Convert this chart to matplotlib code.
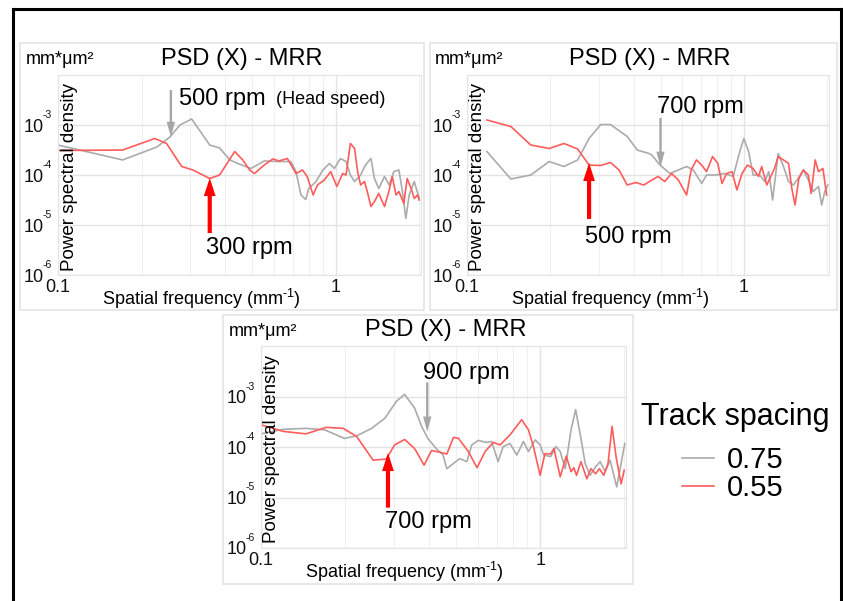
import matplotlib
matplotlib.use("Agg")
import matplotlib.pyplot as plt
from matplotlib.lines import Line2D
from matplotlib.patches import Rectangle
from matplotlib.ticker import LogLocator, NullFormatter, NullLocator

plt.rcParams['font.family'] = 'Liberation Sans'
plt.rcParams['mathtext.fontset'] = 'custom'
plt.rcParams['mathtext.rm'] = 'Liberation Sans'
plt.rcParams['mathtext.it'] = 'Liberation Sans:italic'
plt.rcParams['mathtext.bf'] = 'Liberation Sans:bold'
plt.rcParams['axes.unicode_minus'] = False

W, H = 843, 601
GRAY = '#ababab'
RED = '#ff5c5c'
GRID = '#e4e4e4'

SPACING = ['0.75', '0.55']
YTICKS = [1e-6, 1e-5, 1e-4, 1e-3]
YEXP = ['-6', '-5', '-4', '-3']

# panel 1 : 300 / 500 rpm
f1_075 = [0.10, 0.171, 0.227, 0.253, 0.275, 0.303, 0.352, 0.382, 0.416, 0.444,
          0.496, 0.553, 0.618, 0.69, 0.72, 0.75, 0.78, 0.80, 0.85, 0.90,
          0.95, 0.99, 1.04, 1.09, 1.13, 1.17, 1.23, 1.28, 1.34, 1.38,
          1.43, 1.50, 1.56, 1.62, 1.69, 1.74, 1.79, 1.84, 1.92, 2.00]
p1_075 = [3.98e-4, 2.00e-4, 3.63e-4, 5.75e-4, 1.00e-3, 1.32e-3, 3.98e-4, 3.47e-4, 2.00e-4, 1.70e-4,
          1.35e-4, 1.91e-4, 1.86e-4, 1.86e-4, 1.17e-4, 3.98e-5, 3.24e-5, 5.37e-5, 7.41e-5, 1.26e-4,
          1.70e-4, 1.35e-4, 2.14e-4, 1.86e-4, 1.00e-4, 7.41e-5, 1.00e-4, 1.58e-4, 2.14e-4, 8.51e-5,
          5.37e-5, 9.33e-5, 6.31e-5, 1.17e-4, 1.26e-4, 4.68e-5, 1.35e-5, 3.98e-5, 7.41e-5, 3.39e-5]
f1_055 = [0.10, 0.171, 0.223, 0.246, 0.279, 0.306, 0.352, 0.382, 0.433, 0.463,
          0.49, 0.51, 0.553, 0.594, 0.626, 0.67, 0.72, 0.76, 0.79, 0.83,
          0.86, 0.91, 0.96, 1.01, 1.06, 1.09, 1.13, 1.17, 1.20, 1.23,
          1.27, 1.30, 1.34, 1.38, 1.43, 1.50, 1.56, 1.60, 1.65, 1.69,
          1.76, 1.81, 1.87, 1.92, 1.97, 2.00]
p1_055 = [3.09e-4, 3.16e-4, 5.37e-4, 4.27e-4, 1.48e-4, 1.26e-4, 8.51e-5, 1.00e-4, 2.95e-4, 2.00e-4,
          1.26e-4, 1.07e-4, 1.58e-4, 2.09e-4, 1.91e-4, 2.14e-4, 1.07e-4, 1.26e-4, 9.33e-5, 3.98e-5,
          6.31e-5, 7.94e-5, 1.17e-4, 5.89e-5, 1.07e-4, 1.00e-4, 4.27e-4, 3.39e-4, 1.17e-4, 6.31e-5,
          7.41e-5, 4.68e-5, 2.34e-5, 2.95e-5, 4.27e-5, 2.34e-5, 5.01e-5, 9.33e-5, 3.98e-5, 4.68e-5,
          2.69e-5, 8.51e-5, 5.37e-5, 3.39e-5, 3.98e-5, 3.16e-5]

# panel 2 : 500 / 700 rpm
f2_075 = [0.118, 0.144, 0.170, 0.198, 0.224, 0.251, 0.276, 0.304, 0.330, 0.379,
          0.412, 0.454, 0.465, 0.498, 0.541, 0.580, 0.621, 0.657, 0.704, 0.733,
          0.786, 0.855, 0.915, 0.967, 1.00, 1.04, 1.08, 1.14, 1.19, 1.23,
          1.27, 1.33, 1.39, 1.45, 1.51, 1.57, 1.64, 1.71, 1.78, 1.86,
          1.91, 1.96, 2.01]
p2_075 = [2.95e-4, 8.32e-5, 1.00e-4, 1.86e-4, 1.48e-4, 2.00e-4, 5.37e-4, 1.02e-3, 1.02e-3, 5.89e-4,
          3.16e-4, 2.69e-4, 2.51e-4, 1.58e-4, 1.07e-4, 1.26e-4, 1.48e-4, 1.26e-4, 6.76e-5, 1.00e-4,
          1.00e-4, 1.07e-4, 9.33e-5, 2.95e-4, 5.37e-4, 2.95e-4, 1.00e-4, 1.00e-4, 7.41e-5, 1.17e-4,
          3.16e-5, 2.69e-4, 1.48e-4, 7.41e-5, 6.31e-5, 8.51e-5, 1.26e-4, 7.94e-5, 4.68e-5, 5.89e-5,
          2.51e-5, 4.68e-5, 6.31e-5]
f2_055 = [0.118, 0.144, 0.170, 0.198, 0.224, 0.251, 0.276, 0.304, 0.330, 0.354,
          0.379, 0.407, 0.435, 0.465, 0.490, 0.518, 0.548, 0.580, 0.621, 0.645,
          0.674, 0.704, 0.733, 0.771, 0.805, 0.834, 0.866, 0.906, 0.944, 0.985,
          1.03, 1.08, 1.13, 1.16, 1.21, 1.29, 1.33, 1.39, 1.45, 1.49,
          1.53, 1.58, 1.64, 1.71, 1.75, 1.81, 1.86, 1.93, 1.99]
p2_055 = [1.26e-3, 9.33e-4, 3.98e-4, 3.39e-4, 4.27e-4, 3.31e-4, 1.58e-4, 1.55e-4, 1.78e-4, 1.26e-4,
          6.31e-5, 7.08e-5, 6.31e-5, 7.94e-5, 9.33e-5, 7.41e-5, 1.07e-4, 7.94e-5, 3.98e-5, 1.26e-4,
          2.00e-4, 1.58e-4, 1.17e-4, 2.34e-4, 1.70e-4, 6.76e-5, 1.07e-4, 1.17e-4, 5.01e-5, 1.07e-4,
          1.58e-4, 1.35e-4, 9.33e-5, 1.48e-4, 6.31e-5, 1.35e-4, 2.34e-4, 2.00e-4, 1.70e-4, 5.37e-5,
          2.51e-5, 8.51e-5, 1.26e-4, 1.00e-4, 4.27e-5, 2.00e-4, 1.17e-4, 1.35e-4, 3.98e-5]

# panel 3 : 700 / 900 rpm
f3_075 = [0.100, 0.120, 0.145, 0.169, 0.199, 0.220, 0.249, 0.278, 0.306, 0.327,
          0.355, 0.376, 0.396, 0.424, 0.449, 0.463, 0.515, 0.546, 0.569, 0.600,
          0.643, 0.670, 0.707, 0.737, 0.780, 0.825, 0.871, 0.908, 0.960, 1.00,
          1.03, 1.09, 1.14, 1.18, 1.23, 1.29, 1.34, 1.40, 1.45, 1.51,
          1.58, 1.64, 1.71, 1.78, 1.88, 1.96, 2.01]
p3_075 = [1.82e-4, 2.24e-4, 2.34e-4, 2.19e-4, 1.48e-4, 1.66e-4, 2.34e-4, 3.72e-4, 8.13e-4, 1.10e-3,
          5.89e-4, 2.57e-4, 1.48e-4, 9.33e-5, 6.92e-5, 3.72e-5, 5.89e-5, 5.13e-5, 1.10e-4, 1.35e-4,
          1.23e-4, 1.29e-4, 5.13e-5, 1.02e-4, 1.17e-4, 6.92e-5, 1.29e-4, 8.13e-5, 1.38e-4, 1.10e-4,
          6.92e-5, 6.46e-5, 1.02e-4, 8.13e-5, 3.72e-5, 2.19e-4, 5.50e-4, 1.48e-4, 4.68e-5, 2.75e-5,
          4.07e-5, 5.13e-5, 3.24e-5, 5.50e-5, 1.62e-5, 5.50e-5, 1.17e-4]
f3_055 = [0.100, 0.120, 0.145, 0.171, 0.197, 0.220, 0.252, 0.281, 0.301, 0.327,
          0.355, 0.384, 0.408, 0.443, 0.463, 0.489, 0.510, 0.553, 0.594, 0.635,
          0.679, 0.719, 0.780, 0.858, 0.908, 0.946, 1.00, 1.04, 1.09, 1.12,
          1.18, 1.24, 1.29, 1.32, 1.35, 1.40, 1.47, 1.52, 1.58, 1.63,
          1.69, 1.75, 1.81, 1.87, 1.95, 2.00]
p3_055 = [2.75e-4, 2.04e-4, 1.82e-4, 2.45e-4, 2.34e-4, 1.62e-4, 5.50e-5, 5.75e-5, 1.10e-4, 1.41e-4,
          9.33e-5, 4.37e-5, 8.51e-5, 7.76e-5, 7.24e-5, 1.55e-4, 1.48e-4, 8.13e-5, 3.89e-5, 8.13e-5,
          1.23e-4, 1.10e-4, 1.74e-4, 3.47e-4, 2.19e-4, 1.02e-4, 2.75e-5, 7.41e-5, 7.24e-5, 9.33e-5,
          2.57e-5, 6.61e-5, 3.24e-5, 3.89e-5, 2.75e-5, 5.13e-5, 2.34e-5, 3.72e-5, 2.95e-5, 3.72e-5,
          2.75e-5, 4.68e-5, 2.57e-4, 6.46e-5, 1.86e-5, 3.47e-5]

fig = plt.figure(figsize=(W / 100, H / 100), dpi=100)


def ftext(x, y, s, **kw):
    kw.setdefault('ha', 'center')
    kw.setdefault('va', 'center')
    return fig.text(x / W, 1 - y / H, s, **kw)


def arrow(ax, f, tip, tail, color, hl, hw, tw):
    ax.annotate('', xy=(f, tip), xytext=(f, tail),
                arrowprops=dict(arrowstyle=f'simple,head_length={hl},head_width={hw},tail_width={tw}',
                                color=color, mutation_scale=10, shrinkA=0, shrinkB=0, lw=0))


def draw_panel(box, rect, fg, pg, fr, pr):
    bx0, by0, bx1, by1 = box
    fig.add_artist(Rectangle((bx0 / W, 1 - by1 / H), (bx1 - bx0) / W, (by1 - by0) / H,
                             transform=fig.transFigure, fill=False, ec='#e2e2e2', lw=1.1))
    x0, y0, x1, y1 = rect
    ax = fig.add_axes([x0 / W, 1 - y1 / H, (x1 - x0) / W, (y1 - y0) / H])
    ax.set_xscale('log')
    ax.set_yscale('log')
    ax.set_xlim(0.1, 2.03)
    ax.set_ylim(1e-6, 1e-2)
    gl, = ax.plot(fg, pg, color=GRAY, lw=1.2)
    rl, = ax.plot(fr, pr, color=RED, lw=1.2)

    ax.set_xticks([0.1, 1])
    ax.set_xticklabels(['0.1', '1'])
    ax.xaxis.set_minor_locator(LogLocator(base=10, subs=range(2, 10)))
    ax.xaxis.set_minor_formatter(NullFormatter())
    ax.set_yticks(YTICKS)
    ax.set_yticklabels(['10'] * len(YTICKS))
    ax.yaxis.set_minor_locator(NullLocator())
    ax.tick_params(which='both', length=0, labelsize=13, colors='#111111')
    ax.tick_params(axis='x', pad=3)
    ax.tick_params(axis='y', pad=10.5)
    # small raised exponents next to the "10" tick labels
    for v, e in zip(YTICKS, YEXP):
        ax.annotate(e, xy=(0, v), xycoords=ax.get_yaxis_transform(), xytext=(-15, 10),
                    textcoords='offset pixels', fontsize=7.5, ha='left', va='center',
                    color='#111111', annotation_clip=False)
    ax.grid(True, which='major', color=GRID, lw=1.0)
    ax.grid(True, which='minor', axis='x', color='#f0f0f0', lw=0.8)
    for s in ax.spines.values():
        s.set_color(GRID)
    ax.set_axisbelow(True)

    ftext(x0 - 32, y0 - 15, 'mm*μm²', ha='left', fontsize=13)
    ftext((x0 + x1) / 2 + 2, y0 - 16, 'PSD (X) - MRR', fontsize=17)
    ftext(x0 + 11, (y0 + y1) / 2 + 2, 'Power spectral density', rotation=90, fontsize=13.5)
    ftext(x0 + 143, y1 + 24, r'Spatial frequency (mm$^{\text{-}1}$)', fontsize=13)
    return ax, gl, rl


ax1, gl, rl = draw_panel((20, 43, 424, 310), (58, 75, 421, 275), f1_075, p1_075, f1_055, p1_055)
ax2, _, _ = draw_panel((430, 43, 837, 310), (467, 75, 829, 275), f2_075, p2_075, f2_055, p2_055)
ax3, _, _ = draw_panel((223, 315, 633, 584), (261, 346, 626, 548), f3_075, p3_075, f3_055, p3_055)

# head speed arrows
arrow(ax1, 0.255, 5.75e-4, 5.0e-3, '#a6a6a6', 1.1, 0.6, 0.17)
arrow(ax1, 0.352, 8.7e-5, 6.9e-6, '#ff0000', 1.3, 0.85, 0.3)
arrow(ax2, 0.500, 1.45e-4, 1.38e-3, '#a6a6a6', 1.1, 0.6, 0.17)
arrow(ax2, 0.276, 1.74e-4, 1.32e-5, '#ff0000', 1.3, 0.85, 0.3)
arrow(ax3, 0.394, 2.0e-4, 1.9e-3, '#a6a6a6', 1.1, 0.6, 0.17)
arrow(ax3, 0.285, 7.6e-5, 6.3e-6, '#ff0000', 1.3, 0.85, 0.3)

ftext(179, 99, '500 rpm', ha='left', fontsize=17)
ftext(331, 100, '(Head speed)', fontsize=13)
ftext(249, 248, '300 rpm', fontsize=17)
ftext(700, 107, '700 rpm', fontsize=17)
ftext(628, 237, '500 rpm', fontsize=17)
ftext(466, 373, '900 rpm', fontsize=17)
ftext(428, 522, '700 rpm', fontsize=17)

# legend
ftext(735, 417, 'Track spacing', fontsize=22)
fig.legend(handles=[gl, rl], labels=SPACING, loc='center',
           bbox_to_anchor=(733 / W, 1 - 474 / H), frameon=False, fontsize=21,
           handlelength=1.1, handletextpad=0.45, labelspacing=0.0)

# outer frame
for xs, ys in [([13, 13], [9, 601]), ([13, 841], [9, 9]), ([841, 841], [9, 601])]:
    fig.add_artist(Line2D([x / W for x in xs], [1 - y / H for y in ys],
                          transform=fig.transFigure, color='black', lw=2.2))

fig.savefig('out.png', dpi=100)
